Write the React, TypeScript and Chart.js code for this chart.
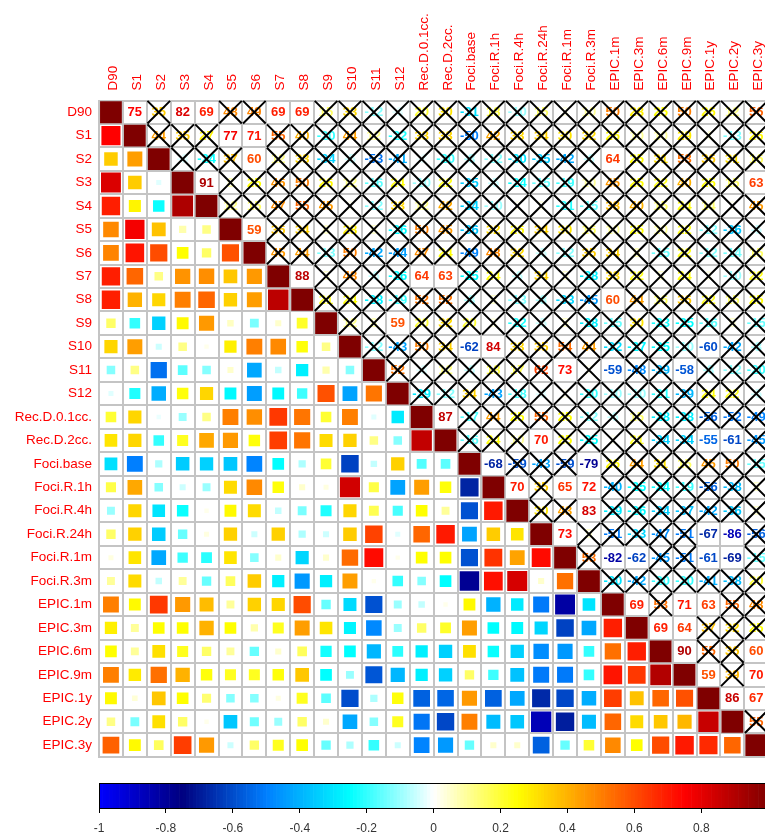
import React, { useEffect, useRef } from 'react';
import { Chart, registerables } from 'chart.js';

Chart.register(...registerables);

const VARS = [
  'D90', 'S1', 'S2', 'S3', 'S4', 'S5', 'S6', 'S7', 'S8', 'S9', 'S10', 'S11', 'S12',
  'Rec.D.0.1cc.', 'Rec.D.2cc.', 'Foci.base', 'Foci.R.1h', 'Foci.R.4h', 'Foci.R.24h',
  'Foci.R.1m', 'Foci.R.3m', 'EPIC.1m', 'EPIC.3m', 'EPIC.6m', 'EPIC.9m', 'EPIC.1y',
  'EPIC.2y', 'EPIC.3y',
];

// Lower-triangle correlations: row i holds r(i, j) for j < i
const corD90: number[] = [];
const corS1 = [0.75];
const corS2 = [0.35, 0.44];
const corS3 = [0.82, 0.35, -0.03];
const corS4 = [0.69, 0.27, -0.24, 0.91];
const corS5 = [0.48, 0.77, 0.37, 0.08, 0.12];
const corS6 = [0.49, 0.71, 0.6, 0.25, 0.15, 0.59];
const corS7 = [0.69, 0.55, 0.12, 0.46, 0.47, 0.36, 0.45];
const corS8 = [0.69, 0.4, 0.33, 0.5, 0.55, 0.34, 0.44, 0.88];
const corS9 = [0.15, -0.2, -0.34, 0.26, 0.45, 0.06, -0.13, 0.05, 0.21];
const corS10 = [0.33, 0.44, -0.05, 0.12, 0.02, 0.28, 0.5, 0.48, 0.24, 0.12];
const corS11 = [-0.12, 0.12, -0.53, -0.16, -0.12, 0.05, -0.42, -0.06, -0.28, 0.08, -0.12];
const corS12 = [-0.03, -0.22, -0.41, 0.24, 0.33, -0.26, -0.44, -0.26, -0.19, 0.59, -0.43, 0.52];
const corRec01 = [0.2, 0.33, -0.02, -0.1, 0.12, 0.5, 0.47, 0.64, 0.52, 0.2, 0.5, -0.03, -0.29];
const corRec2 = [0.3, 0.33, -0.2, 0.22, 0.42, 0.45, 0.24, 0.63, 0.52, 0.32, 0.34, 0.12, -0.12, 0.87];
const corFociBase = [-0.31, -0.5, -0.08, -0.35, -0.34, -0.36, -0.49, -0.25, -0.08, 0.2, -0.62, -0.06, 0.34, -0.17, -0.16];
const corFoci1h = [0.18, 0.42, -0.12, -0.05, -0.1, 0.32, 0.48, 0.24, 0.05, 0.03, 0.84, 0.18, -0.43, 0.44, 0.24, -0.68];
const corFoci4h = [-0.1, 0.33, -0.3, -0.24, 0.02, 0.26, 0.32, -0.06, -0.13, -0.22, 0.33, 0.17, -0.18, 0.25, 0.1, -0.59, 0.7];
const corFoci24h = [0.15, 0.34, -0.35, -0.15, 0.03, 0.34, -0.05, 0.34, -0.08, -0.05, 0.35, 0.62, -0.03, 0.55, 0.7, -0.43, 0.35, 0.3];
const corFoci1m = [0.03, 0.3, -0.42, -0.19, -0.21, 0.3, -0.12, 0.05, -0.33, 0.05, 0.54, 0.73, 0.02, 0.25, 0.25, -0.59, 0.65, 0.43, 0.73];
const corFoci3m = [0.1, 0.32, -0.06, 0.1, -0.15, 0.16, 0.35, -0.28, -0.45, -0.28, 0.44, 0.02, -0.2, -0.12, -0.25, -0.79, 0.72, 0.83, 0.05, 0.53];
const corEpic1m = [0.5, 0.26, 0.64, 0.45, 0.38, 0.1, 0.34, 0.33, 0.6, -0.15, -0.32, -0.59, -0.1, -0.06, 0.02, 0.26, -0.4, -0.29, -0.51, -0.82, -0.3];
const corEpic3m = [0.28, 0.1, 0.25, 0.25, 0.4, 0.25, 0.08, 0.22, 0.44, 0.3, -0.27, -0.48, -0.1, 0.15, 0.21, 0.44, -0.25, -0.26, -0.33, -0.62, -0.42, 0.69];
const corEpic6m = [0.25, 0.1, 0.31, 0.22, 0.15, 0.1, -0.15, 0.05, 0.16, -0.23, -0.25, -0.39, -0.21, -0.28, -0.34, 0.31, -0.24, -0.34, -0.47, -0.45, -0.2, 0.53, 0.69];
const corEpic9m = [0.5, 0.29, 0.53, 0.4, 0.24, 0.22, 0.22, 0.24, 0.36, -0.25, -0.1, -0.58, -0.39, -0.28, -0.34, 0.15, -0.19, -0.37, -0.51, -0.51, -0.2, 0.71, 0.64, 0.9];
const corEpic1y = [0.26, 0.04, 0.36, 0.25, 0.14, -0.12, -0.12, 0.03, 0.22, -0.16, -0.6, -0.08, 0.24, -0.56, -0.55, 0.45, -0.56, -0.42, -0.67, -0.61, -0.41, 0.63, 0.37, 0.55, 0.59];
const corEpic2y = [0.12, -0.13, 0.31, 0.15, 0.02, -0.36, -0.14, -0.1, 0.15, 0.05, -0.42, -0.12, 0.22, -0.52, -0.61, 0.5, -0.38, -0.36, -0.86, -0.69, -0.38, 0.55, 0.32, 0.36, 0.39, 0.86];
const corEpic3y = [0.56, 0.26, 0.16, 0.63, 0.45, -0.05, 0.15, 0.22, 0.25, -0.15, -0.08, -0.2, -0.05, -0.49, -0.45, -0.15, 0.05, 0.05, -0.56, -0.15, 0.2, 0.48, 0.25, 0.6, 0.7, 0.67, 0.55];

const LOWER_ROWS: number[][] = [
  corD90, corS1, corS2, corS3, corS4, corS5, corS6, corS7, corS8, corS9, corS10, corS11, corS12,
  corRec01, corRec2, corFociBase, corFoci1h, corFoci4h, corFoci24h, corFoci1m, corFoci3m,
  corEpic1m, corEpic3m, corEpic6m, corEpic9m, corEpic1y, corEpic2y, corEpic3y,
];

// Significant pairs [row, col] (upper triangle, row < col): printed without a cross
const SIG_PAIRS: [number, number][] = [
  [0, 1], [0, 3], [0, 4], [0, 7], [0, 8], [1, 5], [1, 6], [2, 6], [2, 21], [3, 4], [3, 27],
  [5, 6], [7, 8], [7, 13], [7, 14], [8, 21], [9, 12], [10, 15], [10, 16], [10, 25],
  [11, 19], [11, 21], [11, 24], [13, 14], [14, 18], [14, 25], [14, 26], [15, 16], [15, 20],
  [16, 17], [16, 19], [16, 20], [17, 20], [18, 19], [18, 25], [18, 26], [19, 21], [19, 22],
  [19, 25], [19, 26], [21, 22], [21, 24], [21, 25], [22, 23], [22, 24], [23, 24], [23, 27],
  [24, 25], [24, 27], [25, 26], [25, 27],
];

const PALETTE_STOPS = [-1, -0.75, -0.5, -0.25, 0, 0.25, 0.5, 0.75, 1];
const PALETTE_COLORS = ['#0000FF', '#00007F', '#007FFF', '#00FFFF', '#FFFFFF', '#FFFF00', '#FF7F00', '#FF0000', '#7F0000'];
const COLORBAR_TICKS = [-1, -0.8, -0.6, -0.4, -0.2, 0, 0.2, 0.4, 0.6, 0.8, 1];

const FONT_FAMILY = '"Liberation Sans", Arial, Helvetica, sans-serif';
const N = VARS.length;

function corr(i: number, j: number): number {
  if (i === j) return 1;
  return i > j ? LOWER_ROWS[i][j] : LOWER_ROWS[j][i];
}

function hexToRgb(h: string): number[] {
  const n = parseInt(h.slice(1), 16);
  return [(n >> 16) & 255, (n >> 8) & 255, n & 255];
}

function colorFor(v: number): string {
  const t = Math.max(-1, Math.min(1, v));
  for (let k = 0; k < PALETTE_STOPS.length - 1; k++) {
    if (t <= PALETTE_STOPS[k + 1]) {
      const f = (t - PALETTE_STOPS[k]) / (PALETTE_STOPS[k + 1] - PALETTE_STOPS[k]);
      const a = hexToRgb(PALETTE_COLORS[k]);
      const b = hexToRgb(PALETTE_COLORS[k + 1]);
      const c = a.map((x, idx) => Math.round(x + (b[idx] - x) * f));
      return `rgb(${c[0]},${c[1]},${c[2]})`;
    }
  }
  return PALETTE_COLORS[PALETTE_COLORS.length - 1];
}

function isSig(i: number, j: number): boolean {
  return SIG_PAIRS.some(([a, b]) => (a === i && b === j) || (a === j && b === i));
}

const cellTextPlugin = {
  id: 'cellText',
  beforeDatasetsDraw(chart: any) {
    const { ctx } = chart;
    const xs = chart.scales.x;
    const ys = chart.scales.y;
    ctx.save();
    ctx.font = `bold 13px ${FONT_FAMILY}`;
    ctx.textAlign = 'center';
    ctx.textBaseline = 'middle';
    for (let i = 0; i < N; i++) {
      for (let j = i + 1; j < N; j++) {
        const v = corr(i, j);
        ctx.fillStyle = colorFor(v);
        ctx.fillText(String(Math.round(v * 100)), xs.getPixelForValue(j), ys.getPixelForValue(i) + 0.5);
      }
    }
    ctx.restore();
  },
};

const colorbarPlugin = {
  id: 'colorbar',
  beforeDatasetsDraw(chart: any) {
    const { ctx, chartArea } = chart;
    const xs = chart.scales.x;
    const steps = 200;
    ctx.save();
    for (let k = 0; k < steps; k++) {
      const v0 = -1 + (2 * k) / steps;
      const v1 = v0 + 2 / steps;
      const p0 = xs.getPixelForValue(v0);
      const p1 = xs.getPixelForValue(v1);
      ctx.fillStyle = colorFor((v0 + v1) / 2);
      ctx.fillRect(p0, chartArea.top, p1 - p0 + 0.6, chartArea.bottom - chartArea.top);
    }
    ctx.strokeStyle = '#000';
    ctx.lineWidth = 1;
    const l = xs.getPixelForValue(-1);
    const r = xs.getPixelForValue(1);
    ctx.strokeRect(Math.round(l) + 0.5, Math.round(chartArea.top) + 0.5, Math.round(r - l), Math.round(chartArea.bottom - chartArea.top));
    ctx.restore();
  },
};

export default function App() {
  const mainRef = useRef<HTMLCanvasElement>(null);
  const barRef = useRef<HTMLCanvasElement>(null);

  useEffect(() => {
    const squareData: any[] = [];
    const crossData: any[] = [];
    for (let i = 0; i < N; i++) {
      for (let j = 0; j <= i; j++) {
        squareData.push({ x: VARS[j], y: VARS[i], v: corr(i, j) });
      }
      for (let j = i + 1; j < N; j++) {
        if (!isSig(i, j)) crossData.push({ x: VARS[j], y: VARS[i] });
      }
    }

    const cellSize = (c: any) => {
      const a = c.chart.chartArea;
      return a ? (a.right - a.left) / N : 23.9;
    };
    const squareRadius = (c: any) => {
      const v = c.raw ? c.raw.v : 0;
      const side = cellSize(c) * 0.85 * Math.sqrt(Math.abs(v)) + 1.5;
      return side / Math.SQRT2;
    };

    const tickFont = { size: 13.5, family: FONT_FAMILY };

    const main = new Chart(mainRef.current as HTMLCanvasElement, {
      type: 'scatter',
      data: {
        datasets: [
          {
            label: 'cross',
            data: crossData,
            pointStyle: 'crossRot',
            pointRadius: 16,
            pointHoverRadius: 16,
            pointBorderColor: '#000000',
            pointBorderWidth: 2,
            pointBackgroundColor: 'rgba(0,0,0,0)',
          },
          {
            label: 'squares',
            data: squareData,
            pointStyle: 'rect',
            pointRadius: squareRadius,
            pointHoverRadius: squareRadius,
            pointBackgroundColor: (c: any) => colorFor(c.raw ? c.raw.v : 0),
            pointBorderWidth: 0,
          },
        ] as any,
      },
      options: {
        responsive: false,
        animation: false,
        events: [],
        layout: { autoPadding: false, padding: { left: 0, top: 0, right: 1.8, bottom: 2.3 } },
        plugins: { legend: { display: false }, tooltip: { enabled: false } },
        scales: {
          x: {
            type: 'category',
            labels: VARS,
            position: 'top',
            offset: true,
            grid: { offset: true, color: '#C4C4C4', lineWidth: 2, drawTicks: false },
            border: { display: true, color: '#C4C4C4', width: 2 },
            ticks: {
              autoSkip: false,
              minRotation: 90,
              maxRotation: 90,
              color: '#FF0000',
              font: tickFont,
              padding: 10,
              labelOffset: 18.5,
            },
            afterFit: (s: any) => { s.height = 100.5; },
          },
          y: {
            type: 'category',
            labels: VARS,
            offset: true,
            grid: { offset: true, color: '#C4C4C4', lineWidth: 2, drawTicks: false },
            border: { display: true, color: '#C4C4C4', width: 2 },
            ticks: {
              autoSkip: false,
              color: '#FF0000',
              font: tickFont,
              padding: 7,
            },
            afterFit: (s: any) => { s.width = 99; },
          },
        } as any,
      },
      plugins: [cellTextPlugin],
    });

    const bar = new Chart(barRef.current as HTMLCanvasElement, {
      type: 'scatter',
      data: { datasets: [] },
      options: {
        responsive: false,
        animation: false,
        events: [],
        layout: { autoPadding: false, padding: { left: 99, right: 21.8, top: 13, bottom: 0 } },
        plugins: { legend: { display: false }, tooltip: { enabled: false } },
        scales: {
          x: {
            type: 'linear',
            min: -1,
            max: 1,
            position: 'bottom',
            afterBuildTicks: (s: any) => { s.ticks = COLORBAR_TICKS.map((v) => ({ value: v })); },
            ticks: {
              color: '#333333',
              font: { size: 12, family: FONT_FAMILY },
              padding: 8,
              autoSkip: false,
              maxRotation: 0,
              callback: (v: any) => String(v),
            },
            grid: { drawOnChartArea: false, drawTicks: true, tickLength: 5, color: '#000000', lineWidth: 1 },
            border: { display: false },
            afterFit: (s: any) => { s.height = 28; },
          },
          y: { display: false, min: 0, max: 1 },
        } as any,
      },
      plugins: [colorbarPlugin],
    });

    return () => {
      main.destroy();
      bar.destroy();
    };
  }, []);

  return (
    <div style={{ position: 'absolute', left: 0, top: 0, width: 765, height: 836, overflow: 'hidden', background: '#FFFFFF' }}>
      <canvas ref={mainRef} width={770} height={772} style={{ position: 'absolute', left: 0, top: 0 }} />
      <canvas ref={barRef} width={790} height={66} style={{ position: 'absolute', left: 0, top: 770 }} />
    </div>
  );
}
